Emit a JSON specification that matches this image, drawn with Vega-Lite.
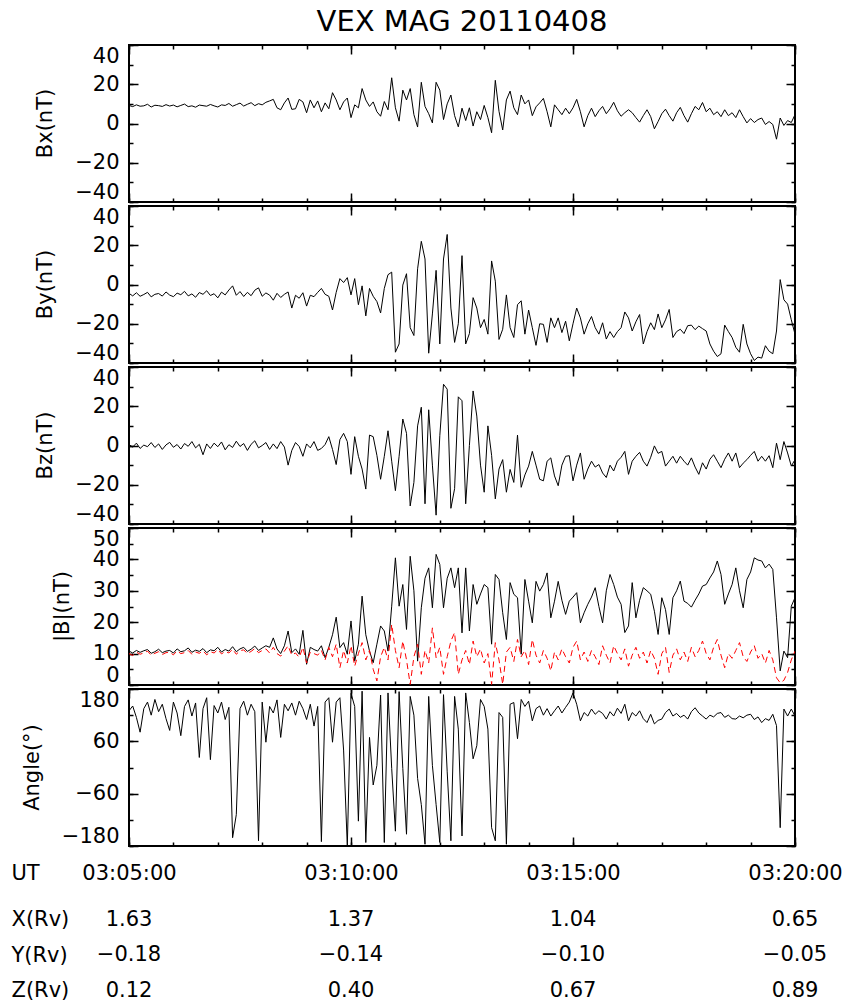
{
"$schema": "https://vega.github.io/schema/vega-lite/v6.json",
"padding": {"left": 10, "top": 7, "right": 10, "bottom": 5},
"spacing": 0,
"config": {
 "view": {"stroke": "black", "strokeWidth": 2},
 "axis": {"domain": false, "grid": false, "tickColor": "black", "tickWidth": 1.5, "labelColor": "black", "labelFont": "DejaVu Sans", "labelFontSize": 21, "titleColor": "black", "titleFont": "DejaVu Sans", "titleFontSize": 21, "titleFontWeight": "normal", "labelOverlap": false}
},
"data": {"values": [
{"sec":0,"bx":9.2,"by":-4.5,"bz":0.5,"b":10.8,"br":10.0,"ang":130},
{"sec":5,"bx":8.6,"by":-5.8,"bz":-0.8,"b":10.2,"br":9.4,"ang":141},
{"sec":10,"bx":9.5,"by":-4.2,"bz":1.2,"b":11.0,"br":10.5,"ang":115},
{"sec":15,"bx":8.8,"by":-6.0,"bz":-1.5,"b":10.4,"br":9.8,"ang":81},
{"sec":20,"bx":9.0,"by":-5.1,"bz":0.2,"b":10.9,"br":10.2,"ang":135},
{"sec":25,"bx":9.8,"by":-4.0,"bz":-0.6,"b":11.3,"br":10.8,"ang":150},
{"sec":30,"bx":8.4,"by":-6.3,"bz":1.5,"b":10.1,"br":9.5,"ang":120},
{"sec":35,"bx":9.3,"by":-5.0,"bz":-1.0,"b":10.6,"br":10.1,"ang":156},
{"sec":40,"bx":9.1,"by":-4.6,"bz":0.8,"b":11.4,"br":10.6,"ang":128},
{"sec":45,"bx":8.7,"by":-5.9,"bz":-2.0,"b":10.3,"br":9.7,"ang":145},
{"sec":50,"bx":9.6,"by":-3.8,"bz":0.3,"b":10.8,"br":10.3,"ang":112},
{"sec":55,"bx":8.9,"by":-5.4,"bz":1.6,"b":11.0,"br":10.4,"ang":85},
{"sec":60,"bx":9.4,"by":-6.2,"bz":-0.9,"b":10.2,"br":9.6,"ang":150},
{"sec":65,"bx":8.5,"by":-4.4,"bz":0.5,"b":11.5,"br":10.9,"ang":125},
{"sec":70,"bx":9.2,"by":-5.2,"bz":-1.8,"b":10.6,"br":10.0,"ang":73},
{"sec":75,"bx":9.9,"by":-3.5,"bz":1.0,"b":10.9,"br":10.3,"ang":140},
{"sec":80,"bx":8.6,"by":-5.8,"bz":-0.4,"b":11.8,"br":11.0,"ang":155},
{"sec":85,"bx":9.0,"by":-4.8,"bz":2.0,"b":10.4,"br":9.8,"ang":118},
{"sec":90,"bx":8.3,"by":-6.5,"bz":-1.2,"b":11.1,"br":10.5,"ang":148},
{"sec":95,"bx":9.4,"by":-4.1,"bz":0.6,"b":10.7,"br":10.1,"ang":23},
{"sec":100,"bx":9.1,"by":-5.0,"bz":-4.7,"b":11.6,"br":10.9,"ang":135},
{"sec":105,"bx":8.8,"by":-3.2,"bz":0.8,"b":10.3,"br":9.6,"ang":160},
{"sec":110,"bx":9.7,"by":-5.6,"bz":-1.5,"b":11.2,"br":10.6,"ang":18},
{"sec":115,"bx":9.0,"by":-4.7,"bz":1.2,"b":10.9,"br":10.2,"ang":142},
{"sec":120,"bx":8.4,"by":-6.8,"bz":-0.6,"b":12.0,"br":11.3,"ang":125},
{"sec":125,"bx":9.5,"by":-3.9,"bz":1.8,"b":10.5,"br":9.9,"ang":150},
{"sec":130,"bx":9.2,"by":-5.3,"bz":-2.2,"b":11.3,"br":10.7,"ang":110},
{"sec":135,"bx":10.2,"by":-2.8,"bz":0.4,"b":10.8,"br":10.2,"ang":138},
{"sec":140,"bx":8.8,"by":-0.7,"bz":-1.0,"b":12.2,"br":11.4,"ang":-161},
{"sec":145,"bx":9.6,"by":-5.5,"bz":2.2,"b":10.6,"br":9.8,"ang":-108},
{"sec":150,"bx":10.4,"by":-3.6,"bz":-0.5,"b":11.5,"br":10.9,"ang":135},
{"sec":155,"bx":8.9,"by":-6.1,"bz":1.0,"b":12.0,"br":11.2,"ang":152},
{"sec":160,"bx":9.8,"by":-4.0,"bz":-2.5,"b":10.7,"br":10.0,"ang":120},
{"sec":165,"bx":10.6,"by":-5.7,"bz":0.6,"b":11.4,"br":10.7,"ang":145},
{"sec":170,"bx":9.1,"by":-2.9,"bz":2.4,"b":12.4,"br":11.6,"ang":128},
{"sec":175,"bx":10.1,"by":-1.7,"bz":-1.2,"b":11.0,"br":10.3,"ang":-168},
{"sec":180,"bx":9.5,"by":-6.0,"bz":0.0,"b":11.8,"br":11.0,"ang":150},
{"sec":185,"bx":10.8,"by":-4.3,"bz":1.5,"b":12.5,"br":11.5,"ang":58},
{"sec":190,"bx":11.5,"by":-5.4,"bz":-2.0,"b":12.0,"br":10.2,"ang":140},
{"sec":195,"bx":12.3,"by":-8.0,"bz":0.8,"b":15.0,"br":12.0,"ang":125},
{"sec":200,"bx":8.0,"by":-4.5,"bz":-1.6,"b":11.5,"br":10.0,"ang":155},
{"sec":205,"bx":7.0,"by":-6.6,"bz":2.0,"b":10.0,"br":9.2,"ang":69},
{"sec":210,"bx":10.5,"by":-5.0,"bz":-0.8,"b":12.5,"br":10.8,"ang":145},
{"sec":215,"bx":13.0,"by":-3.8,"bz":-10.0,"b":17.2,"br":12.5,"ang":130},
{"sec":220,"bx":7.2,"by":-12.0,"bz":-2.5,"b":10.3,"br":9.5,"ang":148},
{"sec":225,"bx":7.5,"by":-5.5,"bz":1.5,"b":11.5,"br":10.2,"ang":120},
{"sec":230,"bx":12.3,"by":-7.0,"bz":-0.5,"b":9.8,"br":8.8,"ang":152},
{"sec":235,"bx":11.0,"by":-4.2,"bz":-5.5,"b":17.4,"br":12.0,"ang":135},
{"sec":240,"bx":5.5,"by":-11.0,"bz":0.8,"b":6.6,"br":7.0,"ang":110},
{"sec":245,"bx":12.0,"by":-5.5,"bz":-1.2,"b":12.0,"br":10.5,"ang":145},
{"sec":250,"bx":8.0,"by":-6.2,"bz":2.0,"b":11.3,"br":10.0,"ang":95},
{"sec":255,"bx":11.5,"by":-4.0,"bz":-2.5,"b":10.8,"br":9.5,"ang":140},
{"sec":260,"bx":6.0,"by":-2.0,"bz":-1.5,"b":12.5,"br":11.0,"ang":-170},
{"sec":265,"bx":10.5,"by":-5.0,"bz":0.5,"b":8.7,"br":8.0,"ang":150},
{"sec":270,"bx":7.5,"by":-6.0,"bz":4.5,"b":12.0,"br":12.0,"ang":160},
{"sec":275,"bx":15.7,"by":-13.0,"bz":-2.0,"b":16.0,"br":9.0,"ang":58},
{"sec":280,"bx":12.0,"by":-4.0,"bz":-9.7,"b":21.6,"br":13.0,"ang":150},
{"sec":285,"bx":7.0,"by":3.0,"bz":3.0,"b":11.9,"br":5.5,"ang":160},
{"sec":290,"bx":11.0,"by":1.0,"bz":6.2,"b":13.5,"br":11.0,"ang":40},
{"sec":295,"bx":13.0,"by":3.5,"bz":2.0,"b":9.8,"br":7.0,"ang":-180},
{"sec":300,"bx":3.0,"by":-5.3,"bz":-14.7,"b":20.4,"br":12.5,"ang":170},
{"sec":305,"bx":9.5,"by":3.0,"bz":4.5,"b":7.6,"br":6.0,"ang":140},
{"sec":310,"bx":8.0,"by":-10.3,"bz":-5.5,"b":13.0,"br":10.0,"ang":-123},
{"sec":315,"bx":17.8,"by":-0.7,"bz":-12.0,"b":28.3,"br":13.5,"ang":175},
{"sec":320,"bx":12.0,"by":-16.0,"bz":-22.2,"b":16.0,"br":8.0,"ang":-172},
{"sec":325,"bx":8.7,"by":-2.0,"bz":5.3,"b":10.8,"br":11.0,"ang":69},
{"sec":330,"bx":11.0,"by":-6.0,"bz":4.5,"b":7.1,"br":5.0,"ang":-40},
{"sec":335,"bx":6.0,"by":-8.7,"bz":-5.0,"b":13.0,"br":1.3,"ang":5},
{"sec":340,"bx":3.7,"by":-14.5,"bz":-17.2,"b":18.8,"br":9.0,"ang":166},
{"sec":345,"bx":11.2,"by":-2.0,"bz":-5.5,"b":17.2,"br":12.0,"ang":-172},
{"sec":350,"bx":7.0,"by":5.0,"bz":7.5,"b":10.8,"br":8.0,"ang":171},
{"sec":355,"bx":23.3,"by":6.3,"bz":-8.0,"b":25.1,"br":19.3,"ang":-2},
{"sec":360,"bx":8.0,"by":-34.5,"bz":-23.0,"b":40.5,"br":11.0,"ang":-146},
{"sec":365,"bx":1.2,"by":-30.3,"bz":-5.5,"b":25.1,"br":5.5,"ang":174},
{"sec":370,"bx":17.0,"by":-0.3,"bz":13.5,"b":32.0,"br":14.0,"ang":-2},
{"sec":375,"bx":12.0,"by":5.5,"bz":6.2,"b":17.7,"br":8.0,"ang":-153},
{"sec":380,"bx":17.8,"by":-22.0,"bz":-30.8,"b":41.0,"br":0.2,"ang":163},
{"sec":385,"bx":4.5,"by":-26.0,"bz":-18.8,"b":30.0,"br":9.0,"ang":120},
{"sec":390,"bx":-1.8,"by":8.0,"bz":10.0,"b":7.6,"br":13.0,"ang":-25},
{"sec":395,"bx":21.0,"by":22.0,"bz":19.5,"b":24.6,"br":3.4,"ang":-85},
{"sec":400,"bx":8.7,"by":13.0,"bz":-29.7,"b":34.0,"br":11.0,"ang":-176},
{"sec":405,"bx":5.0,"by":-35.0,"bz":18.2,"b":37.3,"br":7.0,"ang":163},
{"sec":410,"bx":0.3,"by":-15.0,"bz":-10.0,"b":24.6,"br":18.2,"ang":5},
{"sec":415,"bx":21.0,"by":7.2,"bz":-35.5,"b":41.6,"br":8.7,"ang":-85},
{"sec":420,"bx":17.0,"by":-30.3,"bz":5.0,"b":38.4,"br":12.0,"ang":-172},
{"sec":425,"bx":2.0,"by":13.0,"bz":31.2,"b":24.6,"br":3.4,"ang":167},
{"sec":430,"bx":10.0,"by":25.5,"bz":28.7,"b":34.0,"br":9.0,"ang":-10},
{"sec":435,"bx":14.5,"by":-12.0,"bz":-32.0,"b":37.3,"br":14.0,"ang":-168},
{"sec":440,"bx":4.0,"by":-29.5,"bz":-22.0,"b":31.0,"br":16.7,"ang":163},
{"sec":445,"bx":-1.7,"by":-20.0,"bz":24.8,"b":37.3,"br":3.4,"ang":88},
{"sec":450,"bx":7.8,"by":14.7,"bz":22.8,"b":16.6,"br":8.0,"ang":-157},
{"sec":455,"bx":1.5,"by":-30.3,"bz":-29.7,"b":37.3,"br":11.0,"ang":171},
{"sec":460,"bx":8.0,"by":-25.0,"bz":0.0,"b":17.2,"br":6.5,"ang":103},
{"sec":465,"bx":-1.3,"by":-6.7,"bz":27.8,"b":32.0,"br":14.0,"ang":20},
{"sec":470,"bx":6.0,"by":-12.0,"bz":15.0,"b":25.7,"br":9.0,"ang":50},
{"sec":475,"bx":2.0,"by":-22.0,"bz":-10.0,"b":29.0,"br":11.5,"ang":156},
{"sec":480,"bx":9.2,"by":-17.8,"bz":-23.8,"b":32.0,"br":7.0,"ang":140},
{"sec":485,"bx":3.0,"by":-25.3,"bz":10.0,"b":31.0,"br":10.0,"ang":88},
{"sec":490,"bx":-4.7,"by":12.0,"bz":-5.0,"b":13.0,"br":0.2,"ang":-138},
{"sec":495,"bx":22.0,"by":1.7,"bz":-27.2,"b":35.2,"br":13.5,"ang":-168},
{"sec":500,"bx":6.2,"by":-28.0,"bz":-12.0,"b":33.6,"br":8.0,"ang":126},
{"sec":505,"bx":-3.3,"by":-22.8,"bz":-7.2,"b":23.0,"br":0.2,"ang":115},
{"sec":510,"bx":12.0,"by":-5.3,"bz":-23.8,"b":14.5,"br":10.5,"ang":-176},
{"sec":515,"bx":16.5,"by":-22.0,"bz":-12.2,"b":32.6,"br":12.0,"ang":145},
{"sec":520,"bx":8.0,"by":-27.0,"bz":-18.8,"b":28.9,"br":7.5,"ang":149},
{"sec":525,"bx":4.5,"by":-10.3,"bz":5.3,"b":27.8,"br":14.5,"ang":66},
{"sec":530,"bx":14.5,"by":-8.3,"bz":-21.3,"b":9.8,"br":9.0,"ang":156},
{"sec":535,"bx":10.0,"by":-25.3,"bz":-15.0,"b":33.6,"br":11.0,"ang":140},
{"sec":540,"bx":12.0,"by":-13.0,"bz":-10.5,"b":26.7,"br":6.5,"ang":152},
{"sec":545,"bx":4.0,"by":-22.0,"bz":-3.0,"b":19.8,"br":14.5,"ang":107},
{"sec":550,"bx":8.5,"by":-31.0,"bz":-10.0,"b":33.0,"br":9.5,"ang":135},
{"sec":555,"bx":10.5,"by":-20.0,"bz":-17.2,"b":29.9,"br":7.0,"ang":141},
{"sec":560,"bx":12.8,"by":-20.3,"bz":-18.0,"b":32.0,"br":11.0,"ang":120},
{"sec":565,"bx":6.0,"by":-29.5,"bz":-8.0,"b":35.7,"br":8.5,"ang":135},
{"sec":570,"bx":-1.7,"by":-17.0,"bz":-6.3,"b":21.4,"br":4.5,"ang":118},
{"sec":575,"bx":9.5,"by":-22.0,"bz":-15.5,"b":26.7,"br":10.5,"ang":130},
{"sec":580,"bx":7.0,"by":-17.0,"bz":-20.5,"b":33.0,"br":8.0,"ang":141},
{"sec":585,"bx":4.5,"by":-24.5,"bz":-10.0,"b":27.0,"br":11.5,"ang":125},
{"sec":590,"bx":7.8,"by":-18.7,"bz":-5.5,"b":22.5,"br":9.0,"ang":138},
{"sec":595,"bx":5.0,"by":-28.7,"bz":-5.2,"b":26.7,"br":7.0,"ang":150},
{"sec":600,"bx":8.0,"by":-20.0,"bz":-18.0,"b":28.0,"br":12.0,"ang":171},
{"sec":605,"bx":12.3,"by":-12.0,"bz":-10.0,"b":29.4,"br":14.0,"ang":145},
{"sec":610,"bx":6.0,"by":-17.0,"bz":-3.8,"b":19.8,"br":8.0,"ang":107},
{"sec":615,"bx":-1.7,"by":-25.3,"bz":-17.2,"b":23.0,"br":10.5,"ang":126},
{"sec":620,"bx":4.0,"by":-20.0,"bz":-12.0,"b":25.7,"br":7.5,"ang":118},
{"sec":625,"bx":7.8,"by":-16.3,"bz":-8.0,"b":28.0,"br":11.0,"ang":134},
{"sec":630,"bx":3.5,"by":-22.0,"bz":-11.0,"b":31.0,"br":9.0,"ang":122},
{"sec":635,"bx":6.5,"by":-25.3,"bz":-9.7,"b":25.0,"br":6.5,"ang":130},
{"sec":640,"bx":8.7,"by":-19.5,"bz":-14.0,"b":19.8,"br":12.5,"ang":124},
{"sec":645,"bx":5.0,"by":-27.8,"bz":-16.3,"b":30.0,"br":9.5,"ang":111},
{"sec":650,"bx":7.5,"by":-24.0,"bz":-10.0,"b":35.2,"br":7.0,"ang":128},
{"sec":655,"bx":10.8,"by":-27.0,"bz":-13.0,"b":32.0,"br":12.5,"ang":118},
{"sec":660,"bx":6.5,"by":-24.0,"bz":-8.0,"b":28.0,"br":10.0,"ang":136},
{"sec":665,"bx":3.7,"by":-22.0,"bz":-6.0,"b":25.7,"br":8.0,"ang":124},
{"sec":670,"bx":5.5,"by":-14.0,"bz":-3.0,"b":16.7,"br":11.5,"ang":145},
{"sec":675,"bx":7.0,"by":-17.0,"bz":-14.7,"b":18.8,"br":6.0,"ang":107},
{"sec":680,"bx":5.5,"by":-23.7,"bz":-8.0,"b":32.6,"br":9.5,"ang":126},
{"sec":685,"bx":3.0,"by":-19.0,"bz":-5.5,"b":21.4,"br":12.0,"ang":118},
{"sec":690,"bx":0.7,"by":-15.3,"bz":-3.5,"b":27.0,"br":8.5,"ang":130},
{"sec":695,"bx":4.0,"by":-30.3,"bz":-8.0,"b":31.0,"br":10.5,"ang":112},
{"sec":700,"bx":7.0,"by":-24.0,"bz":-10.5,"b":30.0,"br":7.0,"ang":103},
{"sec":705,"bx":3.5,"by":-19.5,"bz":-6.0,"b":28.9,"br":11.0,"ang":122},
{"sec":710,"bx":-2.7,"by":-23.0,"bz":-0.2,"b":23.5,"br":8.5,"ang":100},
{"sec":715,"bx":1.0,"by":-15.0,"bz":-4.0,"b":16.1,"br":3.4,"ang":108},
{"sec":720,"bx":5.0,"by":-22.0,"bz":-3.0,"b":27.8,"br":10.0,"ang":111},
{"sec":725,"bx":7.3,"by":-18.0,"bz":-10.5,"b":24.0,"br":12.0,"ang":126},
{"sec":730,"bx":4.0,"by":-12.7,"bz":-8.0,"b":16.1,"br":4.0,"ang":134},
{"sec":735,"bx":1.2,"by":-27.0,"bz":-5.5,"b":27.8,"br":9.5,"ang":118},
{"sec":740,"bx":5.5,"by":-24.0,"bz":-9.0,"b":30.0,"br":11.5,"ang":124},
{"sec":745,"bx":8.2,"by":-22.8,"bz":-5.5,"b":33.1,"br":8.0,"ang":115},
{"sec":750,"bx":4.0,"by":-25.0,"bz":-8.0,"b":26.7,"br":10.5,"ang":120},
{"sec":755,"bx":0.7,"by":-21.0,"bz":-10.0,"b":26.0,"br":7.5,"ang":111},
{"sec":760,"bx":5.0,"by":-20.7,"bz":-6.3,"b":24.8,"br":12.0,"ang":128},
{"sec":765,"bx":8.7,"by":-23.0,"bz":-11.0,"b":27.0,"br":9.0,"ang":137},
{"sec":770,"bx":7.0,"by":-21.2,"bz":-14.7,"b":29.0,"br":11.0,"ang":125},
{"sec":775,"bx":10.7,"by":-22.5,"bz":-8.8,"b":31.5,"br":14.0,"ang":118},
{"sec":780,"bx":6.0,"by":-23.7,"bz":-12.0,"b":32.0,"br":10.0,"ang":111},
{"sec":785,"bx":7.8,"by":-30.3,"bz":-7.0,"b":34.1,"br":8.0,"ang":120},
{"sec":790,"bx":4.5,"by":-34.0,"bz":-4.7,"b":36.0,"br":12.0,"ang":116},
{"sec":795,"bx":6.0,"by":-36.7,"bz":-8.0,"b":39.5,"br":14.5,"ang":124},
{"sec":800,"bx":3.5,"by":-35.3,"bz":-11.3,"b":35.2,"br":9.5,"ang":126},
{"sec":805,"bx":7.0,"by":-20.7,"bz":-7.0,"b":25.7,"br":5.5,"ang":115},
{"sec":810,"bx":4.0,"by":-24.0,"bz":-3.8,"b":29.0,"br":10.0,"ang":120},
{"sec":815,"bx":5.5,"by":-27.0,"bz":-8.0,"b":32.0,"br":8.5,"ang":112},
{"sec":820,"bx":3.0,"by":-32.0,"bz":-3.8,"b":37.3,"br":11.0,"ang":111},
{"sec":825,"bx":7.0,"by":-34.5,"bz":-11.3,"b":30.0,"br":13.5,"ang":118},
{"sec":830,"bx":3.5,"by":-20.3,"bz":-9.0,"b":24.6,"br":9.0,"ang":114},
{"sec":835,"bx":0.3,"by":-30.3,"bz":-7.2,"b":33.6,"br":7.5,"ang":120},
{"sec":840,"bx":2.5,"by":-35.3,"bz":-5.0,"b":36.0,"br":10.5,"ang":122},
{"sec":845,"bx":0.5,"by":-38.7,"bz":-3.0,"b":40.5,"br":12.5,"ang":110},
{"sec":850,"bx":2.0,"by":-37.0,"bz":-8.0,"b":39.8,"br":8.5,"ang":116},
{"sec":855,"bx":2.8,"by":-37.5,"bz":-5.5,"b":39.5,"br":10.0,"ang":103},
{"sec":860,"bx":-0.5,"by":-31.2,"bz":-8.0,"b":37.3,"br":7.0,"ang":112},
{"sec":865,"bx":1.0,"by":-34.0,"bz":-5.2,"b":38.5,"br":11.0,"ang":108},
{"sec":870,"bx":-0.5,"by":-35.3,"bz":-11.3,"b":36.8,"br":8.0,"ang":122},
{"sec":875,"bx":-8.0,"by":-23.7,"bz":1.2,"b":21.4,"br":2.3,"ang":96},
{"sec":880,"bx":2.8,"by":2.5,"bz":-7.2,"b":4.5,"br":0.7,"ang":-138},
{"sec":885,"bx":-1.0,"by":-7.8,"bz":2.0,"b":10.8,"br":1.5,"ang":134},
{"sec":890,"bx":1.5,"by":-10.0,"bz":-3.8,"b":8.7,"br":4.0,"ang":118},
{"sec":895,"bx":0.5,"by":-18.0,"bz":-10.5,"b":25.1,"br":8.0,"ang":134},
{"sec":900,"bx":4.5,"by":-25.3,"bz":-7.2,"b":27.8,"br":10.8,"ang":118}
]},
"vconcat": [
{
 "width": 666, "height": 157,
 "title": {"text": "VEX MAG 20110408", "font": "DejaVu Sans", "fontSize": 29, "fontWeight": "normal", "color": "black", "anchor": "middle", "offset": 7},
 "layer": [
  {"mark": {"type": "line", "color": "black", "strokeWidth": 1, "clip": true},
   "encoding": {
    "x": {"field": "sec", "type": "quantitative", "scale": {"domain": [0, 900], "nice": false, "zero": false},
     "axis": {"orient": "bottom", "labels": false, "title": null, "values": [0,60,120,180,240,300,360,420,480,540,600,660,720,780,840,900], "tickSize": -4}},
    "y": {"field": "bx", "type": "quantitative", "scale": {"domain": [-40, 40], "nice": false, "zero": false},
     "axis": {"orient": "left", "labels": false, "title": null, "values": [-40, -30, -20, -10, 0, 10, 20, 30, 40], "tickSize": -4}}}},
  {"mark": {"type": "line", "opacity": 0},
   "encoding": {
    "x": {"field": "sec", "type": "quantitative", "axis": {"orient": "top", "labels": false, "title": null, "values": [0,60,120,180,240,300,360,420,480,540,600,660,720,780,840,900], "tickSize": -4}},
    "y": {"field": "bx", "type": "quantitative", "axis": {"orient": "right", "labels": false, "title": null, "values": [-40, -30, -20, -10, 0, 10, 20, 30, 40], "tickSize": -4}}}},
  {"mark": {"type": "line", "opacity": 0},
   "encoding": {
    "x": {"field": "sec", "type": "quantitative", "axis": {"orient": "bottom", "labels": false, "title": null, "values": [0, 300, 600, 900], "tickSize": -9}},
    "y": {"field": "bx", "type": "quantitative", "axis": {"orient": "left", "title": "Bx(nT)", "titleX": -84, "titleY": 78, "titleAngle": -90, "titleAlign": "center", "titleBaseline": "middle", "values": [-40, -20, 0, 20, 40], "labelFlush": true, "labelPadding": 19, "tickSize": -9}}}},
  {"mark": {"type": "line", "opacity": 0},
   "encoding": {
    "x": {"field": "sec", "type": "quantitative", "axis": {"orient": "top", "labels": false, "title": null, "values": [0, 300, 600, 900], "tickSize": -9}},
    "y": {"field": "bx", "type": "quantitative", "axis": {"orient": "right", "labels": false, "title": null, "values": [-40, -20, 0, 20, 40], "tickSize": -9}}}}
 ],
 "resolve": {"axis": {"x": "independent", "y": "independent"}}
},
{
 "width": 666, "height": 157,
 "layer": [
  {"mark": {"type": "line", "color": "black", "strokeWidth": 1, "clip": true},
   "encoding": {
    "x": {"field": "sec", "type": "quantitative", "scale": {"domain": [0, 900], "nice": false, "zero": false},
     "axis": {"orient": "bottom", "labels": false, "title": null, "values": [0,60,120,180,240,300,360,420,480,540,600,660,720,780,840,900], "tickSize": -4}},
    "y": {"field": "by", "type": "quantitative", "scale": {"domain": [-40, 40], "nice": false, "zero": false},
     "axis": {"orient": "left", "labels": false, "title": null, "values": [-40, -30, -20, -10, 0, 10, 20, 30, 40], "tickSize": -4}}}},
  {"mark": {"type": "line", "opacity": 0},
   "encoding": {
    "x": {"field": "sec", "type": "quantitative", "axis": {"orient": "top", "labels": false, "title": null, "values": [0,60,120,180,240,300,360,420,480,540,600,660,720,780,840,900], "tickSize": -4}},
    "y": {"field": "by", "type": "quantitative", "axis": {"orient": "right", "labels": false, "title": null, "values": [-40, -30, -20, -10, 0, 10, 20, 30, 40], "tickSize": -4}}}},
  {"mark": {"type": "line", "opacity": 0},
   "encoding": {
    "x": {"field": "sec", "type": "quantitative", "axis": {"orient": "bottom", "labels": false, "title": null, "values": [0, 300, 600, 900], "tickSize": -9}},
    "y": {"field": "by", "type": "quantitative", "axis": {"orient": "left", "title": "By(nT)", "titleX": -84, "titleY": 78, "titleAngle": -90, "titleAlign": "center", "titleBaseline": "middle", "values": [-40, -20, 0, 20, 40], "labelFlush": true, "labelPadding": 19, "tickSize": -9}}}},
  {"mark": {"type": "line", "opacity": 0},
   "encoding": {
    "x": {"field": "sec", "type": "quantitative", "axis": {"orient": "top", "labels": false, "title": null, "values": [0, 300, 600, 900], "tickSize": -9}},
    "y": {"field": "by", "type": "quantitative", "axis": {"orient": "right", "labels": false, "title": null, "values": [-40, -20, 0, 20, 40], "tickSize": -9}}}}
 ],
 "resolve": {"axis": {"x": "independent", "y": "independent"}}
},
{
 "width": 666, "height": 157,
 "layer": [
  {"mark": {"type": "line", "color": "black", "strokeWidth": 1, "clip": true},
   "encoding": {
    "x": {"field": "sec", "type": "quantitative", "scale": {"domain": [0, 900], "nice": false, "zero": false},
     "axis": {"orient": "bottom", "labels": false, "title": null, "values": [0,60,120,180,240,300,360,420,480,540,600,660,720,780,840,900], "tickSize": -4}},
    "y": {"field": "bz", "type": "quantitative", "scale": {"domain": [-40, 40], "nice": false, "zero": false},
     "axis": {"orient": "left", "labels": false, "title": null, "values": [-40, -30, -20, -10, 0, 10, 20, 30, 40], "tickSize": -4}}}},
  {"mark": {"type": "line", "opacity": 0},
   "encoding": {
    "x": {"field": "sec", "type": "quantitative", "axis": {"orient": "top", "labels": false, "title": null, "values": [0,60,120,180,240,300,360,420,480,540,600,660,720,780,840,900], "tickSize": -4}},
    "y": {"field": "bz", "type": "quantitative", "axis": {"orient": "right", "labels": false, "title": null, "values": [-40, -30, -20, -10, 0, 10, 20, 30, 40], "tickSize": -4}}}},
  {"mark": {"type": "line", "opacity": 0},
   "encoding": {
    "x": {"field": "sec", "type": "quantitative", "axis": {"orient": "bottom", "labels": false, "title": null, "values": [0, 300, 600, 900], "tickSize": -9}},
    "y": {"field": "bz", "type": "quantitative", "axis": {"orient": "left", "title": "Bz(nT)", "titleX": -84, "titleY": 78, "titleAngle": -90, "titleAlign": "center", "titleBaseline": "middle", "values": [-40, -20, 0, 20, 40], "labelFlush": true, "labelPadding": 19, "tickSize": -9}}}},
  {"mark": {"type": "line", "opacity": 0},
   "encoding": {
    "x": {"field": "sec", "type": "quantitative", "axis": {"orient": "top", "labels": false, "title": null, "values": [0, 300, 600, 900], "tickSize": -9}},
    "y": {"field": "bz", "type": "quantitative", "axis": {"orient": "right", "labels": false, "title": null, "values": [-40, -20, 0, 20, 40], "tickSize": -9}}}}
 ],
 "resolve": {"axis": {"x": "independent", "y": "independent"}}
},
{
 "width": 666, "height": 157,
 "layer": [
  {"mark": {"type": "line", "color": "black", "strokeWidth": 1, "clip": true},
   "encoding": {
    "x": {"field": "sec", "type": "quantitative", "scale": {"domain": [0, 900], "nice": false, "zero": false},
     "axis": {"orient": "bottom", "labels": false, "title": null, "values": [0,60,120,180,240,300,360,420,480,540,600,660,720,780,840,900], "tickSize": -4}},
    "y": {"field": "b", "type": "quantitative", "scale": {"domain": [0, 50], "nice": false, "zero": false},
     "axis": {"orient": "left", "labels": false, "title": null, "values": [0, 5, 10, 15, 20, 25, 30, 35, 40, 45, 50], "tickSize": -4}}}},
  {"mark": {"type": "line", "opacity": 0},
   "encoding": {
    "x": {"field": "sec", "type": "quantitative", "axis": {"orient": "top", "labels": false, "title": null, "values": [0,60,120,180,240,300,360,420,480,540,600,660,720,780,840,900], "tickSize": -4}},
    "y": {"field": "b", "type": "quantitative", "axis": {"orient": "right", "labels": false, "title": null, "values": [0, 5, 10, 15, 20, 25, 30, 35, 40, 45, 50], "tickSize": -4}}}},
  {"mark": {"type": "line", "opacity": 0},
   "encoding": {
    "x": {"field": "sec", "type": "quantitative", "axis": {"orient": "bottom", "labels": false, "title": null, "values": [0, 300, 600, 900], "tickSize": -9}},
    "y": {"field": "b", "type": "quantitative", "axis": {"orient": "left", "title": "|B|(nT)", "titleX": -67, "titleY": 78, "titleAngle": -90, "titleAlign": "center", "titleBaseline": "middle", "values": [0, 10, 20, 30, 40, 50], "labelFlush": true, "labelPadding": 19, "tickSize": -9}}}},
  {"mark": {"type": "line", "opacity": 0},
   "encoding": {
    "x": {"field": "sec", "type": "quantitative", "axis": {"orient": "top", "labels": false, "title": null, "values": [0, 300, 600, 900], "tickSize": -9}},
    "y": {"field": "b", "type": "quantitative", "axis": {"orient": "right", "labels": false, "title": null, "values": [0, 10, 20, 30, 40, 50], "tickSize": -9}}}},
  {"mark": {"type": "line", "color": "red", "strokeWidth": 1, "strokeDash": [6, 4], "clip": true},
   "encoding": {
    "x": {"field": "sec", "type": "quantitative", "axis": null},
    "y": {"field": "br", "type": "quantitative", "axis": null}}}
 ],
 "resolve": {"axis": {"x": "independent", "y": "independent"}}
},
{
 "width": 666, "height": 157,
 "layer": [
  {"mark": {"type": "line", "color": "black", "strokeWidth": 1, "clip": true},
   "encoding": {
    "x": {"field": "sec", "type": "quantitative", "scale": {"domain": [0, 900], "nice": false, "zero": false},
     "axis": {"orient": "bottom", "labels": false, "title": null, "values": [0,60,120,180,240,300,360,420,480,540,600,660,720,780,840,900], "tickSize": -4}},
    "y": {"field": "ang", "type": "quantitative", "scale": {"domain": [-180, 180], "nice": false, "zero": false},
     "axis": {"orient": "left", "labels": false, "title": null, "values": [-180, -120, -60, 0, 60, 120, 180], "tickSize": -4}}}},
  {"mark": {"type": "line", "opacity": 0},
   "encoding": {
    "x": {"field": "sec", "type": "quantitative", "axis": {"orient": "top", "labels": false, "title": null, "values": [0,60,120,180,240,300,360,420,480,540,600,660,720,780,840,900], "tickSize": -4}},
    "y": {"field": "ang", "type": "quantitative", "axis": {"orient": "right", "labels": false, "title": null, "values": [-180, -120, -60, 0, 60, 120, 180], "tickSize": -4}}}},
  {"mark": {"type": "line", "opacity": 0},
   "encoding": {
    "x": {"field": "sec", "type": "quantitative", "axis": {"orient": "bottom", "labels": true, "values": [0, 300, 600, 900], "labelExpr": "datum.value == 0 ? '03:05:00' : datum.value == 300 ? '03:10:00' : datum.value == 600 ? '03:15:00' : '03:20:00'", "labelFlush": false, "labelPadding": 25, "title": "UT", "titleX": -118, "titleY": 27, "titleAlign": "left", "titleBaseline": "middle", "titleAngle": 0, "tickSize": -9}},
    "y": {"field": "ang", "type": "quantitative", "axis": {"orient": "left", "title": "Angle(°)", "titleX": -97, "titleY": 78, "titleAngle": -90, "titleAlign": "center", "titleBaseline": "middle", "values": [-180, -60, 60, 180], "labelFlush": true, "labelPadding": 19, "tickSize": -9}}}},
  {"mark": {"type": "line", "opacity": 0},
   "encoding": {
    "x": {"field": "sec", "type": "quantitative", "axis": {"orient": "top", "labels": false, "title": null, "values": [0, 300, 600, 900], "tickSize": -9}},
    "y": {"field": "ang", "type": "quantitative", "axis": {"orient": "right", "labels": false, "title": null, "values": [-180, -60, 60, 180], "tickSize": -9}}}}
 ],
 "resolve": {"axis": {"x": "independent", "y": "independent"}}
},
{
 "width": 666, "height": 142,
 "view": {"stroke": null},
 "data": {"values": [
  {"sec": 0, "coord": "X(Rv)", "v": 1.63},
  {"sec": 300, "coord": "X(Rv)", "v": 1.37},
  {"sec": 600, "coord": "X(Rv)", "v": 1.04},
  {"sec": 900, "coord": "X(Rv)", "v": 0.65},
  {"sec": 0, "coord": "Y(Rv)", "v": -0.18},
  {"sec": 300, "coord": "Y(Rv)", "v": -0.14},
  {"sec": 600, "coord": "Y(Rv)", "v": -0.10},
  {"sec": 900, "coord": "Y(Rv)", "v": -0.05},
  {"sec": 0, "coord": "Z(Rv)", "v": 0.12},
  {"sec": 300, "coord": "Z(Rv)", "v": 0.40},
  {"sec": 600, "coord": "Z(Rv)", "v": 0.67},
  {"sec": 900, "coord": "Z(Rv)", "v": 0.89}
 ]},
 "mark": {"type": "text", "font": "DejaVu Sans", "fontSize": 21, "color": "black", "align": "center", "baseline": "middle"},
 "encoding": {
  "x": {"field": "sec", "type": "quantitative", "scale": {"domain": [0, 900], "nice": false, "zero": false}, "axis": null},
  "y": {"field": "coord", "type": "nominal", "sort": ["X(Rv)", "Y(Rv)", "Z(Rv)"], "scale": {"type": "point", "padding": 1.3667},
   "axis": {"title": null, "domain": false, "ticks": false, "labelAlign": "left", "labelBaseline": "middle", "labelPadding": 118}},
  "text": {"field": "v", "type": "quantitative", "format": ".2f"}
 }
}
]
}
